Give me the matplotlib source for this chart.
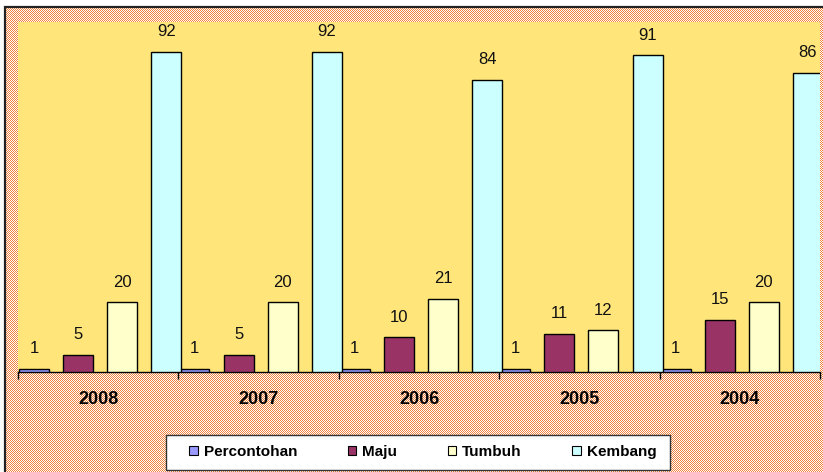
import numpy as np
import matplotlib
matplotlib.use("Agg")
import matplotlib.pyplot as plt
from matplotlib.patches import Rectangle, Patch

plt.rcParams['font.family'] = ['Liberation Sans', 'DejaVu Sans']

years = ['2008', '2007', '2006', '2005', '2004']
series_names = ['Percontohan', 'Maju', 'Tumbuh', 'Kembang']
percontohan = [1, 1, 1, 1, 1]
maju = [5, 5, 10, 11, 15]
tumbuh = [20, 20, 21, 12, 20]
kembang = [92, 92, 84, 91, 86]
colors = ['#9999FF', '#993366', '#FFFFCC', '#CCFFFF']

W, H = 823, 472
fig = plt.figure(figsize=(W / 100, H / 100), dpi=100)
fig.patch.set_facecolor('white')

# orange/white dithered background like the original chart area
bh, bw = H - 8, W - 6
yy, xx = np.mgrid[0:bh, 0:bw]
checker = ((xx + yy) % 2 == 0)
bg = np.ones((bh, bw, 3))
bg[checker] = np.array([240, 132, 62]) / 255.0
fig.figimage(bg, xo=6, yo=0, origin='upper', zorder=0)

# frame line on left / top
fig.add_artist(Rectangle((5 / W, -0.01), 1.1, (H - 7) / H + 0.01, transform=fig.transFigure,
                         fill=False, edgecolor='#222222', linewidth=1.6, zorder=1))

ax = fig.add_axes([18 / W, (H - 372) / H, 802 / W, 350 / H])
ax.set_zorder(2)
ax.set_facecolor('#FFE57A')

x = np.arange(len(years))
width = 0.1875
step = 0.275
for k, (vals, col) in enumerate(zip([percontohan, maju, tumbuh, kembang], colors)):
    pos = x + 0.1 + k * step
    bars = ax.bar(pos, vals, width, color=col, edgecolor='black', linewidth=1.0, zorder=3)
    for b, v in zip(bars, vals):
        ax.annotate(f"{v}", (b.get_x() + b.get_width() / 2, v), xytext=(0, 9),
                    textcoords='offset points', ha='center', va='bottom', fontsize=12,
                    color='#111111')

ax.set_xlim(0, 5)
ax.set_ylim(0, 100.6)
ax.set_yticks([])
for s in ['left', 'right', 'top']:
    ax.spines[s].set_visible(False)
ax.spines['bottom'].set_linewidth(1.0)
ax.set_xticks(np.arange(0, 6), minor=True)
ax.set_xticks(x + 0.5)
ax.set_xticklabels(years)
ax.tick_params(axis='x', which='major', length=0, pad=14)
ax.tick_params(axis='x', which='minor', length=5, width=1, direction='out')
for lbl in ax.get_xticklabels():
    lbl.set_fontweight('bold')
    lbl.set_fontsize(13)

# legend box
fig.add_artist(Rectangle((166 / W, (H - 470) / H), 504 / W, 35 / H, transform=fig.transFigure,
                         facecolor='white', edgecolor='#333333', linewidth=1.0, zorder=3))
handles = [Patch(facecolor=c, edgecolor='black', linewidth=0.8) for c in colors]
leg = fig.legend(handles, series_names, loc='center', ncol=4,
                 bbox_to_anchor=(423 / W, 1 - 452 / H), bbox_transform=fig.transFigure,
                 frameon=False, prop={'weight': 'bold', 'size': 11},
                 handlelength=0.55, handleheight=0.55, handletextpad=0.4,
                 columnspacing=3.3)
leg.set_zorder(4)

fig.savefig('out.png', dpi=100)
